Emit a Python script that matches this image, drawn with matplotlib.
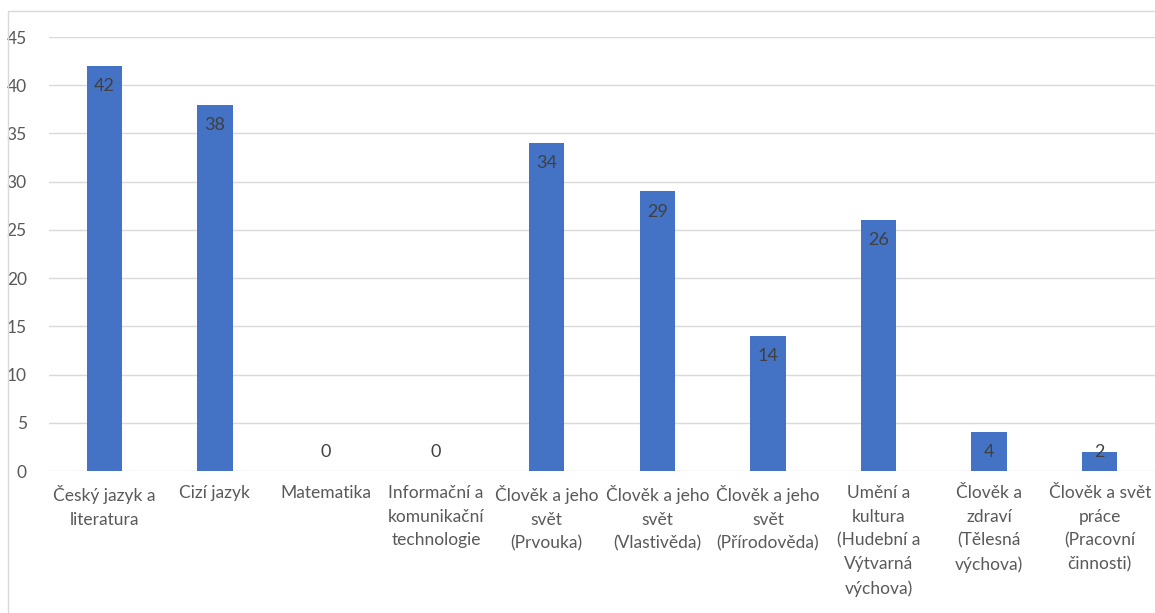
import matplotlib.pyplot as plt
from matplotlib.patches import Rectangle

categories = [
    "Český jazyk a\nliteratura",
    "Cizí jazyk",
    "Matematika",
    "Informační a\nkomunikační\ntechnologie",
    "Člověk a jeho\nsvět\n(Prvouka)",
    "Člověk a jeho\nsvět\n(Vlastivěda)",
    "Člověk a jeho\nsvět\n(Přírodověda)",
    "Umění a\nkultura\n(Hudební a\nVýtvarná\nvýchova)",
    "Člověk a\nzdraví\n(Tělesná\nvýchova)",
    "Člověk a svět\npráce\n(Pracovní\nčinnosti)",
]
values = [42, 38, 0, 0, 34, 29, 14, 26, 4, 2]
y_ticks = [0, 5, 10, 15, 20, 25, 30, 35, 40, 45]

plt.rcParams['font.family'] = ['Lato', 'DejaVu Sans']

fig = plt.figure(figsize=(11.55, 6.13), dpi=100)
ax = fig.add_axes([49 / 1155, 1 - 471 / 613, (1155 - 49) / 1155, (471 - 37) / 613])

x = list(range(len(values)))
ax.bar(x, values, width=0.32, color="#4472C4", zorder=3)

for xi, v in zip(x, values):
    ax.text(xi, max(v - 2.1, 2.0), str(v), ha="center", va="center",
            fontsize=13, color="#404040", zorder=4)

ax.set_xlim(-0.5, len(values) - 0.5)
ax.set_ylim(0, 45)
ax.set_yticks(y_ticks)
ax.set_xticks(x)
ax.set_xticklabels(categories, linespacing=1.6)
ax.tick_params(axis="both", length=0, labelsize=12.5, labelcolor="#595959")
ax.tick_params(axis="y", pad=16)
ax.tick_params(axis="x", pad=10)
ax.grid(axis="y", color="#D9D9D9", linewidth=1, zorder=0)
for s in ax.spines.values():
    s.set_visible(False)

# chart area border
fig.patches.append(Rectangle((8 / 1155, -0.05), 1.1, 1 - 11 / 613 + 0.05,
                             transform=fig.transFigure, fill=False,
                             edgecolor="#D9D9D9", linewidth=1))

fig.savefig("out.png", dpi=100)
